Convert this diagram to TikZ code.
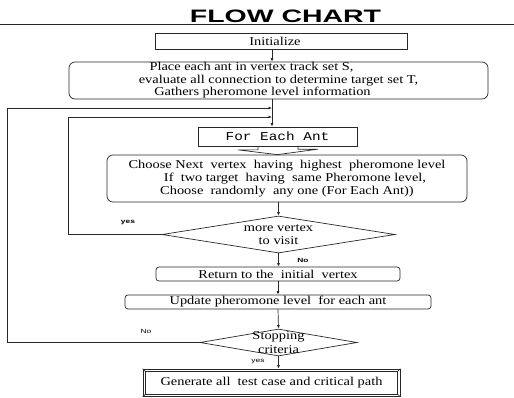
\documentclass[tikz,border=0pt]{standalone}
\usepackage{fontspec}
\setmainfont{Liberation Serif}[FakeStretch=1.2]
\setmonofont{Liberation Mono}[FakeStretch=1.2]
\newfontfamily\headfont{Liberation Sans}[FakeStretch=1.4]
\newfontfamily\titlefont{Liberation Sans}[FakeStretch=1.58]
\usetikzlibrary{shapes.geometric, arrows.meta, positioning, calc}
\definecolor{linegray}{RGB}{40, 40, 40}

\tikzset{
  flowbox/.style={draw=linegray, line width=0.7pt, inner sep=0pt, align=center,
                  font=\fontsize{12}{12.5}\selectfont},
  softbox/.style={flowbox, rounded corners=3pt},
  decision/.style={draw=linegray, line width=0.7pt, diamond, inner sep=0pt},
  flowline/.style={draw=linegray, line width=0.7pt},
  flowarrow/.style={flowline, -{Latex[length=3.5pt, width=3pt]}},
  branchtag/.style={inner sep=0pt, font=\headfont\bfseries\fontsize{6}{6}\selectfont},
  plaintag/.style={inner sep=0pt, font=\headfont\fontsize{6}{6}\selectfont}
}

\begin{document}
\begin{tikzpicture}[x=1pt, y=-1pt]
  \useasboundingbox (0,0) rectangle (514,397);

  % heading
  \node[anchor=base, inner sep=0pt, font=\titlefont\bfseries\fontsize{18}{18}\selectfont]
       (title) at (285.5,22) {FLOW CHART};
  \draw[flowline] (0,24) -- (514,24);

  % boxes
  \node[flowbox, minimum width=252, minimum height=16] (init) at (281,41) {Initialize\hspace*{12pt}};
  \node[softbox, rounded corners=6pt, minimum width=419, minimum height=37] (place) at (278.5,80.5) {
      Place each ant in vertex track set S,\hspace*{54pt}\\
      evaluate all connection to determine target set T,\\
      Gathers pheromone level information\hspace*{32pt}};
  \node[flowbox, minimum width=159, minimum height=19, font=\ttfamily\fontsize{12}{12}\selectfont]
       (foreach) at (277.5,136.5) {For Each Ant};
  \node[softbox, rounded corners=6pt, minimum width=360, minimum height=47,
        font=\fontsize{12}{13}\selectfont] (choose) at (287,178.5) {
      Choose Next\ \ vertex\ \ having\ \ highest\ \ pheromone level\\
      \hspace*{16pt}If\ \ two target\ \ having\ \ same Pheromone level,\\
      Choose\ \ randomly\ \ any one (For Each Ant))};
  \node[decision, minimum width=233, minimum height=37,
        label={[align=center, font=\fontsize{12}{13}\selectfont]center:{more vertex\\to visit}}]
       (more) at (278.5,234.5) {};
  \node[softbox, minimum width=244, minimum height=14] (back) at (278,274) {Return to the\ \ initial\ \ vertex};
  \node[softbox, minimum width=306, minimum height=14] (update) at (278,302) {Update pheromone level\ \ for each ant};
  \node[decision, minimum width=157, minimum height=27,
        label={[align=center, font=\fontsize{12}{14}\selectfont]center:{Stopping\\criteria}}]
       (stop) at (278.5,342.5) {};
  \node[flowbox, minimum width=257, minimum height=27.5] (report) at (271.5,382.75)
       {Generate all\ \ test case and critical path};
  \draw[flowline] ($(report.north west)+(3,3)$) rectangle ($(report.south east)+(-3,-3)$);
  \foreach \cx/\cy in {west/1, east/-1} {
    \draw[flowline] (report.north \cx) -- ++(3*\cy,3);
    \draw[flowline] (report.south \cx) -- ++(3*\cy,-3);
  }

  % joins on the upper spine
  \coordinate (spine) at (272,0);
  \coordinate (nojoin) at (272,108);
  \coordinate (yesjoin) at (272,117);

  % connectors
  \draw[flowarrow] (init.south -| spine) -- (place.north -| spine);
  \draw[flowarrow] (place.south -| spine) -- (foreach.north -| spine);
  \draw[flowline] ($(foreach.south)+(-19.5,0)$) -- ++(0,3.5) -- ++(-20,0)
        -- (foreach.south |- choose.north) -- ++(40.5,-5.5) -- ++(-20,0) -- ++(0,-3.5);
  \draw[flowarrow] (choose.south -| more.north) -- (more.north);
  \draw[flowarrow] (more.south) -- (back.north -| more.south);
  \draw[flowarrow] (back.south) -- (update.north);
  \draw[flowarrow] (update.south) -- (stop.north);
  \draw[flowarrow] (stop.south) -- (report.north -| stop.south);
  \draw[flowarrow] (more.west) -- ++(-93,0) |- (yesjoin);
  \draw[flowarrow] (stop.west) -- ++(-192,0) |- (nojoin);

  % branch labels
  \node[branchtag] (yesmore) at (128,223) {yes};
  \node[branchtag] (nomore) at (303,260) {No};
  \node[plaintag] (nostop) at (146,331) {No};
  \node[plaintag] (yesstop) at (258,362) {yes};
\end{tikzpicture}
\end{document}
